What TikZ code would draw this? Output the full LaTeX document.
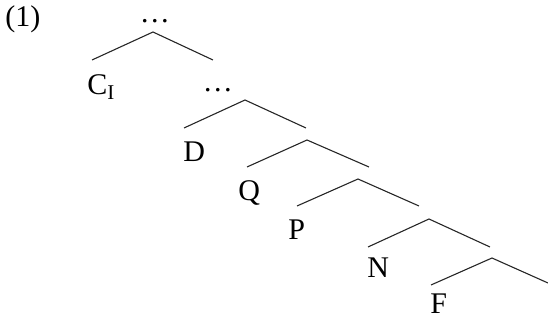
\documentclass[tikz,border=0pt]{standalone}
\usepackage{fontspec}
\setmainfont{Liberation Serif}

\begin{document}
\begin{tikzpicture}[
  x=0.5pt, y=-0.5pt,
  every node/.style={font=\fontsize{15}{18}\selectfont, inner sep=0pt},
  branch/.style={line width=0.55pt, black!85},
  lab/.style={anchor=base west},
  dots/.style={anchor=base},
]
\useasboundingbox (0,0) rectangle (548,320);

% Example number
\node[lab] (num) at (5,27) {(1)};

% Top level
\coordinate (a1) at (153,32);
\coordinate (l1) at (92,60);
\coordinate (r1) at (213,60);
\node[dots] (d1) at (155,23) {\dots};
\node[lab] (ci) at (87,95) {C\textsubscript{I}};

% D level
\coordinate (a2) at (245,100);
\coordinate (l2) at (184,128);
\coordinate (r2) at (306,128);
\node[dots] (d2) at (218,92) {\dots};
\node[lab] (d) at (183,162) {D};

% Q level
\coordinate (a3) at (307,140);
\coordinate (l3) at (247,167);
\coordinate (r3) at (369,167);
\node[lab] (q) at (238,201) {Q};

% P level
\coordinate (a4) at (358,179);
\coordinate (l4) at (297,206);
\coordinate (r4) at (419,206);
\node[lab] (p) at (288,240) {P};

% N level
\coordinate (a5) at (429,219);
\coordinate (l5) at (368,247);
\coordinate (r5) at (490,247);
\node[lab] (n) at (367,278) {N};

% F level
\coordinate (a6) at (492,258);
\coordinate (l6) at (431,285);
\coordinate (r6) at (548,283);
\node[lab] (f) at (430,314) {F};

% Branches
\draw[branch] (l1) -- (a1) -- (r1);
\draw[branch] (l2) -- (a2) -- (r2);
\draw[branch] (l3) -- (a3) -- (r3);
\draw[branch] (l4) -- (a4) -- (r4);
\draw[branch] (l5) -- (a5) -- (r5);
\draw[branch] (l6) -- (a6) -- (r6);

\end{tikzpicture}
\end{document}
